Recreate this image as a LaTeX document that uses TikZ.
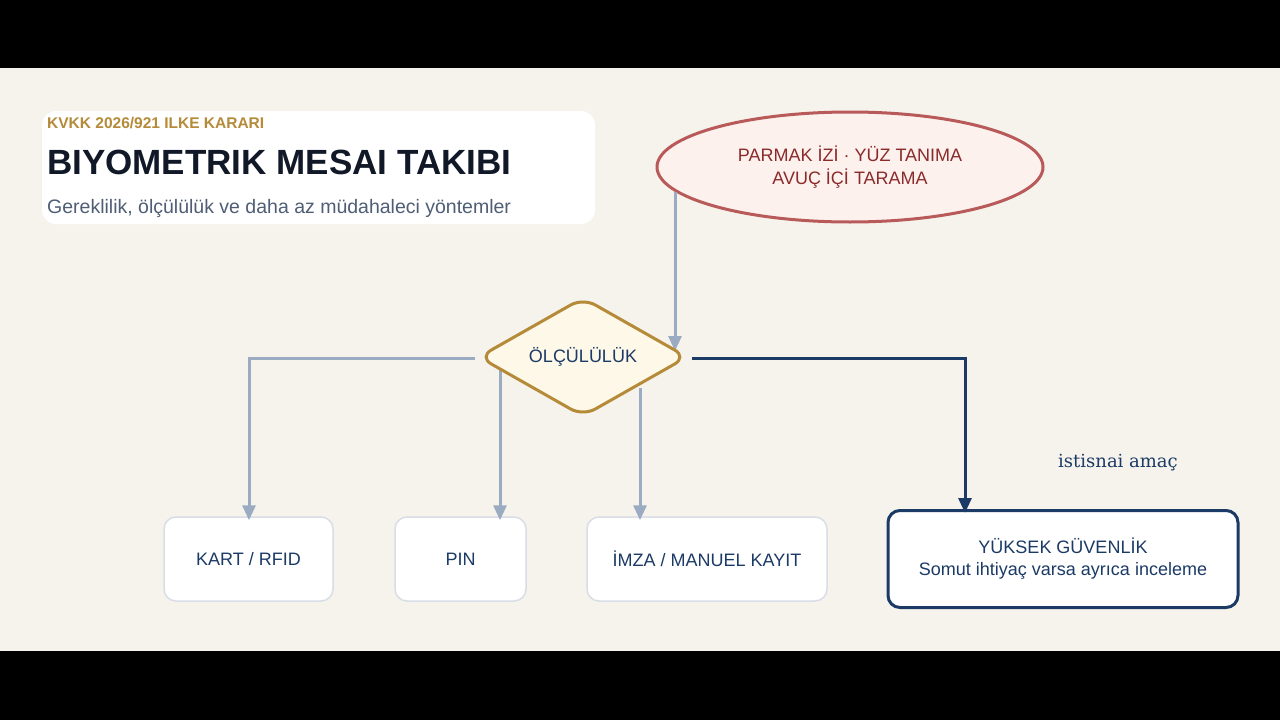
\documentclass[tikz,border=0pt]{standalone}
\usepackage{fontspec}
\setmainfont{Liberation Sans}
\newfontfamily\serifx{DejaVu Serif}
\usetikzlibrary{arrows.meta,shapes.geometric}
\definecolor{bg}{HTML}{F6F3EC}
\definecolor{gold}{HTML}{B58B3A}
\definecolor{navy}{HTML}{1B3A66}
\definecolor{gray}{HTML}{9AABC2}
\definecolor{boxb}{HTML}{D8DDE6}
\definecolor{redb}{HTML}{B85A5A}
\definecolor{redf}{HTML}{FDF1EE}
\definecolor{redt}{HTML}{8A2A2A}
\definecolor{titlec}{HTML}{111827}
\definecolor{subc}{HTML}{4F5D75}
\definecolor{dfill}{HTML}{FEF8E8}
\begin{document}
\begin{tikzpicture}[x=1pt,y=-1pt,
  box/.style={draw=boxb,line width=1.5pt,fill=white,rounded corners=12pt,text=navy,font=\fontsize{18}{22}\selectfont},
  garr/.style={draw=gray,line width=3pt,-{Triangle[length=15pt,width=13pt]}},
  narr/.style={draw=navy,line width=3pt,-{Triangle[length=15pt,width=13pt]}}]
\useasboundingbox (0,0) rectangle (1280,720);
\fill[black] (0,0) rectangle (1280,720);
\fill[bg] (0,68) rectangle (1280,651);
% header
\fill[white,rounded corners=14pt] (42,111) rectangle (595,224);
\node[anchor=west,inner sep=0pt,text=gold,font=\bfseries\fontsize{15.5}{18}\selectfont] (k) at (47,123) {KVKK 2026/921 ILKE KARARI};
\node[anchor=west,inner sep=0pt,text=titlec,font=\bfseries\fontsize{35}{40}\selectfont] (t) at (47,162) {BIYOMETRIK MESAI TAKIBI};
\node[anchor=west,inner sep=0pt,text=subc,font=\fontsize{19.5}{24}\selectfont] (s) at (47,208) {Gereklilik, ölçülülük ve daha az müdahaleci yöntemler};
% ellipse
\node[draw=redb,fill=redf,line width=3pt,ellipse,minimum width=386pt,minimum height=110pt,align=center,text=redt,font=\fontsize{18}{23}\selectfont] (e) at (850,167) {PARMAK İZİ · YÜZ TANIMA\\AVUÇ İÇİ TARAMA};
% coordinates
\coordinate (d) at (583,357);
\coordinate (eo) at (675,192);
\coordinate (ei) at (675,351);
\coordinate (l0) at (475,358);
\coordinate (l1) at (249,358);
\coordinate (m0) at (500,370);
\coordinate (r0) at (640,388);
\coordinate (n0) at (692,358);
\coordinate (n1) at (965,358);
% boxes
\node[box,minimum width=169pt,minimum height=84pt] (kart) at (248.5,559) {KART / RFID};
\node[box,minimum width=131pt,minimum height=84pt] (pin) at (460.5,559) {PIN};
\node[box,minimum width=240pt,minimum height=84pt] (imza) at (707,559) {İMZA / MANUEL KAYIT};
\node[box,draw=navy,line width=3pt,minimum width=350pt,minimum height=97pt,align=center] (yuk) at (1063,559) {YÜKSEK GÜVENLİK\\Somut ihtiyaç varsa ayrıca inceleme};
% connectors
\draw[garr] (eo) -- (ei);
\draw[garr] (l0) -- (l1) -- ([yshift=-4pt]kart.north -| l1);
\draw[garr] (m0) -- ([yshift=-4pt]m0 |- pin.north);
\draw[garr] (r0) -- ([yshift=-4pt]r0 |- imza.north);
\draw[narr] (n0) -- (n1) -- ([yshift=-4pt]n1 |- yuk.north);
% diamond
\draw[draw=gold,fill=dfill,line width=3pt,rounded corners=14pt] (479,357) -- (583,298) -- (687,357) -- (583,416) -- cycle;
\node[text=navy,font=\fontsize{18}{22}\selectfont] (dl) at (d) {ÖLÇÜLÜLÜK};
\node[text=navy,font=\serifx\fontsize{18}{22}\selectfont] (ist) at (1118,463) {istisnai amaç};
\end{tikzpicture}
\end{document}
